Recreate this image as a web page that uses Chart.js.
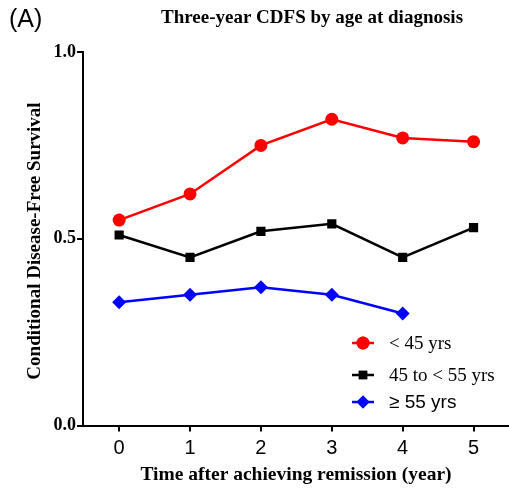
<!DOCTYPE html>
<html>
<head>
<meta charset="utf-8">
<script src="https://cdn.jsdelivr.net/npm/chart.js@4.4.1/dist/chart.umd.min.js"></script>
<style>
html,body{margin:0;padding:0;background:#fff;}
#wrap{width:509px;height:489px;position:relative;}
</style>
</head>
<body>
<div id="wrap"><canvas id="c" width="509" height="489"></canvas></div>
<script>
const years = [0, 1, 2, 3, 4, 5];
const under45 = [0.55, 0.62, 0.75, 0.82, 0.77, 0.76];
const from45to55 = [0.51, 0.45, 0.52, 0.54, 0.45, 0.53];
const over55 = [0.33, 0.35, 0.37, 0.35, 0.30];
const xTicks = [0, 1, 2, 3, 4, 5];
const yTicks = [0.0, 0.5, 1.0];
const seriesNames = ['< 45 yrs', '45 to < 55 yrs', '\u2265 55 yrs'];
const seriesColors = ['#ff0000', '#000000', '#0000ff'];
const seriesShapes = ['circle', 'rect', 'rectRot'];

function pts(vals){ return vals.map((v,i)=>({x: years[i], y: v})); }

const serif = '"Liberation Serif", "Times New Roman", serif';
const sans = '"Liberation Sans", Arial, sans-serif';

const textPlugin = {
  id: 'texts',
  afterDraw(chart){
    const ctx = chart.ctx;
    ctx.save();
    ctx.fillStyle = '#000';
    ctx.textBaseline = 'middle';
    ctx.font = '25px ' + sans;
    ctx.textAlign = 'left';
    ctx.fillText('(A)', 9, 20);
    ctx.font = 'bold 19px ' + serif;
    ctx.textAlign = 'center';
    ctx.fillText('Three-year CDFS by age at diagnosis', 312, 18);
    ctx.font = 'bold 19.5px ' + serif;
    ctx.fillText('Time after achieving remission (year)', 296, 475);
    ctx.save();
    ctx.translate(35, 241);
    ctx.rotate(-Math.PI/2);
    ctx.font = 'bold 19px ' + serif;
    ctx.fillText('Conditional Disease-Free Survival', 0, 0);
    ctx.restore();
    const rows = [343, 375, 402];
    const fonts = ['19px ' + serif, '19px ' + serif, '19px ' + sans];
    for (let i = 0; i < 3; i++) {
      const y = rows[i];
      ctx.strokeStyle = seriesColors[i];
      ctx.lineWidth = 2.5;
      ctx.beginPath(); ctx.moveTo(352, y); ctx.lineTo(374, y); ctx.stroke();
      ctx.fillStyle = seriesColors[i];
      Chart.helpers.drawPoint(ctx, {pointStyle: seriesShapes[i], radius: i===1?6:6.5, rotation: 0, borderWidth: 0}, 363, y);
      ctx.fill();
      ctx.fillStyle = '#000';
      ctx.font = fonts[i];
      ctx.textAlign = 'left';
      ctx.fillText(seriesNames[i], 389, y + 1);
    }
    ctx.restore();
  }
};

function ds(label, vals, color, shape, r){
  return {
    label, data: pts(vals), borderColor: color, backgroundColor: color,
    borderWidth: 2.5, pointStyle: shape, pointRadius: r, pointBorderWidth: 0,
    pointBackgroundColor: color, tension: 0, fill: false
  };
}

new Chart(document.getElementById('c'), {
  type: 'line',
  data: {
    datasets: [
      ds(seriesNames[0], under45, seriesColors[0], seriesShapes[0], 6.5),
      ds(seriesNames[1], from45to55, seriesColors[1], seriesShapes[1], 6.5),
      ds(seriesNames[2], over55, seriesColors[2], seriesShapes[2], 7)
    ]
  },
  options: {
    responsive: false,
    animation: false,
    devicePixelRatio: 1,
    layout: { autoPadding: false, padding: { top: 52, left: 0, right: 0, bottom: 0 } },
    plugins: { legend: { display: false }, tooltip: { enabled: false }, title: { display: false } },
    scales: {
      x: {
        type: 'linear', min: -0.51, max: 5.5,
        afterBuildTicks(s){ s.ticks = xTicks.map(v=>({value: v})); },
        afterFit(s){ s.height = 63.5; s.paddingLeft = 0; s.paddingRight = 0; },
        grid: { display: true, drawOnChartArea: false, drawTicks: true, tickLength: 6, color: '#000', lineWidth: 2 },
        border: { display: true, color: '#000', width: 2 },
        ticks: { color: '#000', font: { family: sans, size: 20 }, padding: 5, maxRotation: 0, autoSkip: false,
                 callback: v => String(v) }
      },
      y: {
        type: 'linear', min: 0, max: 1,
        afterBuildTicks(s){ s.ticks = yTicks.map(v=>({value: v})); },
        afterFit(s){ s.width = 83; s.paddingTop = 0; s.paddingBottom = 0; },
        grid: { display: true, drawOnChartArea: false, drawTicks: true, tickLength: 6, color: '#000', lineWidth: 2 },
        border: { display: true, color: '#000', width: 2 },
        ticks: { color: '#000', font: { family: serif, size: 18, weight: 'bold' }, padding: 1,
                 callback: v => Number(v).toFixed(1) }
      }
    }
  },
  plugins: [textPlugin]
});
</script>
</body>
</html>
